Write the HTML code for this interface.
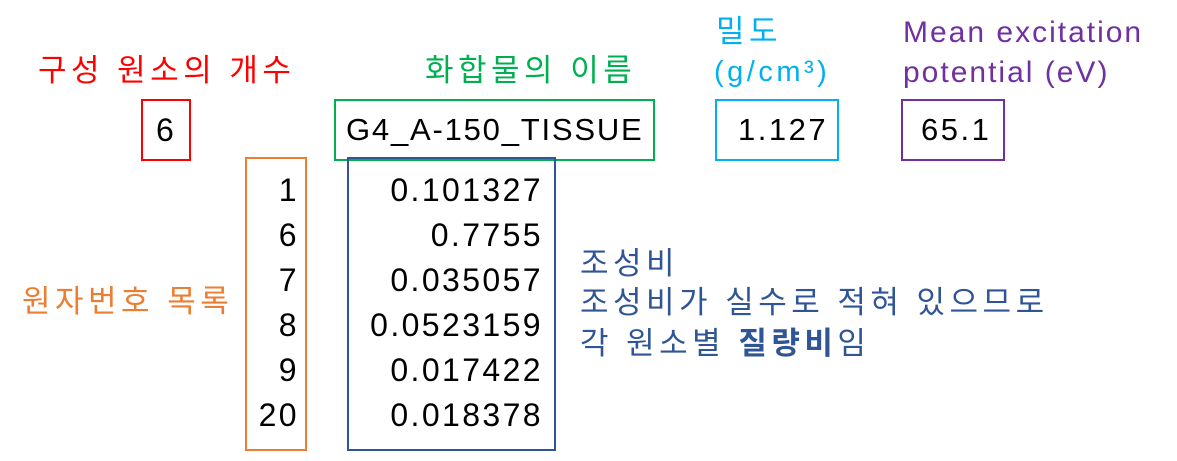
<!DOCTYPE html>
<html><head><meta charset="utf-8"><style>
body{margin:0;width:1177px;height:461px;background:#fff;position:relative;overflow:hidden;font-family:"Liberation Sans","Noto Sans CJK KR",sans-serif;}
.t{position:absolute;white-space:nowrap;line-height:1;}
.k{font-size:31px;letter-spacing:4.5px;}
.b{position:absolute;box-sizing:border-box;border:2px solid;}
.n{position:absolute;font-size:32px;color:#000;line-height:1;text-align:right;letter-spacing:2.4px;}
</style></head><body>
<div class="t k" style="left:38px;top:55px;color:#ff0000">구성 원소의 개수</div>
<div class="b" style="left:141px;top:99px;width:50px;height:62px;border-color:#ff0000"></div>
<div class="t" style="left:156px;top:114px;font-size:32px">6</div>

<div class="t k" style="left:425px;top:55px;color:#00b050">화합물의 이름</div>
<div class="b" style="left:334px;top:99px;width:321px;height:62px;border-color:#00b050"></div>
<div class="t" style="left:346px;top:114px;font-size:31px;letter-spacing:1.8px">G4_A-150_TISSUE</div>

<div class="t k" style="left:716px;top:16px;color:#00b0f0">밀도</div>
<div class="t" style="left:714px;top:58px;font-size:29px;letter-spacing:3.5px;color:#00b0f0">(g/cm³)</div>
<div class="b" style="left:715px;top:99px;width:124px;height:62px;border-color:#00b0f0"></div>
<div class="t" style="left:738px;top:114px;font-size:31px;letter-spacing:2.5px">1.127</div>

<div class="t" style="left:903px;top:18px;font-size:30px;letter-spacing:2px;color:#7030a0">Mean excitation</div>
<div class="t" style="left:903px;top:58px;font-size:30px;letter-spacing:2px;color:#7030a0">potential (eV)</div>
<div class="b" style="left:901px;top:99px;width:104px;height:62px;border-color:#7030a0"></div>
<div class="t" style="left:921px;top:114px;font-size:31px;letter-spacing:2.5px">65.1</div>

<div class="b" style="left:245px;top:157px;width:62px;height:294px;border-color:#ed7d31"></div>
<div class="n" style="left:230px;top:168px;width:69px;line-height:45px">1<br>6<br>7<br>8<br>9<br>20</div>
<div class="b" style="left:347px;top:157px;width:209px;height:294px;border-color:#2f5597"></div>
<div class="n" style="left:340px;top:168px;width:203px;line-height:45px">0.101327<br>0.7755<br>0.035057<br>0.0523159<br>0.017422<br>0.018378</div>

<div class="t k" style="left:22px;top:286px;color:#ed7d31">원자번호 목록</div>

<div class="t k" style="left:580px;top:248px;color:#2f5597">조성비</div>
<div class="t k" style="left:580px;top:287px;color:#2f5597">조성비가 실수로 적혀 있으므로</div>
<div class="t k" style="left:580px;top:328px;color:#2f5597">각 원소별 <b>질량비</b>임</div>
</body></html>
